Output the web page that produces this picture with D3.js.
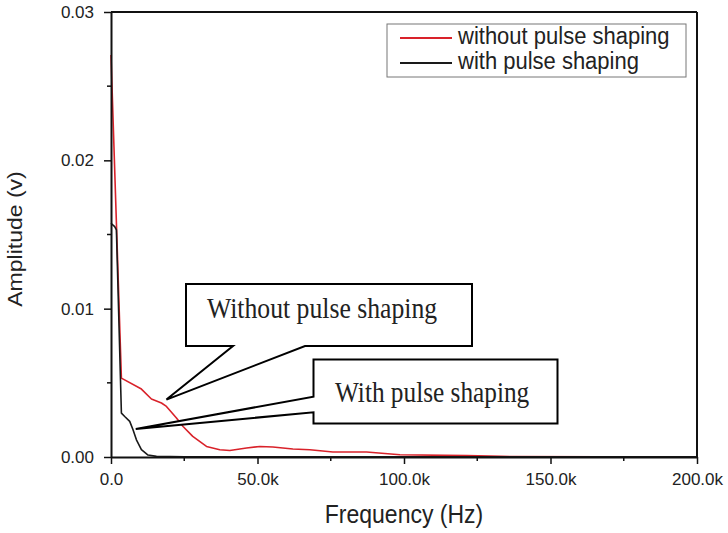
<!DOCTYPE html>
<html>
<head>
<meta charset="utf-8">
<script src="https://cdn.jsdelivr.net/npm/d3@7"></script>
<style>
  html, body { margin: 0; padding: 0; background: #fff; }
  svg { display: block; }
  .sans { font-family: "Liberation Sans", Arial, sans-serif; }
  .serif { font-family: "Liberation Serif", "Times New Roman", serif; }
</style>
</head>
<body>
<svg id="chart" width="728" height="533"></svg>
<script>
// Spectrum amplitude, frequency in Hz, amplitude in volts
const freqWithout = [0, 3550, 10380, 13800, 17220, 18925, 22340, 24600, 27900, 32590, 37130, 40550, 46250, 50800, 55240, 62070, 67880, 75730, 87240, 98620, 121400, 132900, 167000, 200000];
const ampWithout  = [0.0271, 0.00532, 0.00458, 0.00391, 0.00364, 0.00341, 0.00263, 0.00206, 0.00139, 0.00071, 0.00049, 0.00044, 0.00061, 0.00071, 0.00067, 0.00054, 0.00049, 0.00034, 0.00034, 0.00015, 0.00009, 0.00004, 0.00002, 0.00001];

const freqWith = [0, 1260, 1845, 3550, 4680, 6390, 7515, 8680, 10380, 12640, 15510, 25000, 50000, 100000, 150000, 200000];
const ampWith  = [0.01576, 0.01553, 0.01531, 0.00296, 0.00273, 0.0024, 0.00184, 0.00116, 0.00049, 0.00013, 0.00004, 0.00002, 0.00001, 0.00001, 0.00001, 0.00001];

const seriesNames = ["without pulse shaping", "with pulse shaping"];
const seriesColors = ["#d9222a", "#1a1a1a"];

const xTickValues = [0, 50000, 100000, 150000, 200000];
const xTickLabels = ["0.0", "50.0k", "100.0k", "150.0k", "200.0k"];
const yTickValues = [0, 0.01, 0.02, 0.03];
const yTickLabels = ["0.00", "0.01", "0.02", "0.03"];

// Callout annotations: text and the data point each one points to
const callouts = [
  { text: "Without pulse shaping", tipX: 18925, tipY: 0.00387 },
  { text: "With pulse shaping",    tipX: 8440,  tipY: 0.00189 }
];

const svg = d3.select("#chart");
const margin = { left: 111, top: 12, right: 31, bottom: 76 };
const W = 728 - margin.left - margin.right;
const H = 533 - margin.top - margin.bottom;

const x = d3.scaleLinear().domain([0, 200000]).range([0, W]);
const y = d3.scaleLinear().domain([0, 0.03]).range([H, 0]);

const g = svg.append("g").attr("transform", `translate(${margin.left},${margin.top})`);

const TS = 1.15; // vertical text stretch

// Curves
const line = d3.line().x(d => x(d[0])).y(d => y(d[1]));
const dataWithout = freqWithout.map((f, i) => [f, ampWithout[i]]);
const dataWith = freqWith.map((f, i) => [f, ampWith[i]]);

g.append("path").datum(dataWithout)
  .attr("d", line).attr("fill", "none")
  .attr("stroke", seriesColors[0]).attr("stroke-width", 1.6).attr("stroke-linejoin", "round");
g.append("path").datum(dataWith)
  .attr("d", line).attr("fill", "none")
  .attr("stroke", seriesColors[1]).attr("stroke-width", 1.6).attr("stroke-linejoin", "round");

// Frame: top and right edges
g.append("line").attr("x1", 0).attr("x2", W).attr("y1", 0).attr("y2", 0)
  .attr("stroke", "#111").attr("stroke-width", 2);
g.append("line").attr("x1", W).attr("x2", W).attr("y1", 0).attr("y2", H)
  .attr("stroke", "#111").attr("stroke-width", 2);

// Axes
const xAxis = d3.axisBottom(x).tickValues(xTickValues)
  .tickFormat((d, i) => xTickLabels[i]).tickSizeInner(7).tickSizeOuter(0).tickPadding(9);
const yAxis = d3.axisLeft(y).tickValues(yTickValues)
  .tickFormat((d, i) => yTickLabels[i]).tickSizeInner(7).tickSizeOuter(0).tickPadding(10);

const gx = g.append("g").attr("transform", `translate(0,${H})`).call(xAxis);
const gy = g.append("g").call(yAxis);

// Minor ticks
const xMinor = d3.range(25000, 200000, 50000);
const yMinor = [0.005, 0.015, 0.025];
g.append("g").selectAll("line").data(xMinor).join("line")
  .attr("x1", d => x(d)).attr("x2", d => x(d)).attr("y1", H).attr("y2", H + 4)
  .attr("stroke", "#111").attr("stroke-width", 1.5);
g.append("g").selectAll("line").data(yMinor).join("line")
  .attr("x1", -4).attr("x2", 0).attr("y1", d => y(d)).attr("y2", d => y(d))
  .attr("stroke", "#111").attr("stroke-width", 1.5);

[gx, gy].forEach(a => {
  a.select(".domain").attr("stroke", "#111").attr("stroke-width", 2);
  a.selectAll(".tick line").attr("stroke", "#111").attr("stroke-width", 1.5);
  a.selectAll(".tick text").attr("class", "sans").attr("font-size", 17).attr("fill", "#222");
});

// Axis titles
svg.append("text").attr("class", "sans")
  .attr("transform", `translate(404,523) scale(1,${TS})`)
  .attr("text-anchor", "middle").attr("font-size", 23).attr("fill", "#222")
  .text("Frequency (Hz)");
svg.append("text").attr("class", "sans")
  .attr("transform", `translate(22,239) rotate(-90) scale(${TS},1)`)
  .attr("text-anchor", "middle").attr("font-size", 20).attr("fill", "#222")
  .text("Amplitude (v)");

// Legend
const leg = svg.append("g").attr("transform", "translate(387,24)");
leg.append("rect").attr("width", 299).attr("height", 53)
  .attr("fill", "#fff").attr("stroke", "#777").attr("stroke-width", 1);
seriesNames.forEach((name, i) => {
  const ly = 14 + i * 25;
  leg.append("line").attr("x1", 13).attr("x2", 65).attr("y1", ly).attr("y2", ly)
    .attr("stroke", seriesColors[i]).attr("stroke-width", 2);
  leg.append("text").attr("class", "sans")
    .attr("transform", `translate(71,${ly + 6}) scale(1,1.05)`)
    .attr("font-size", 22).attr("fill", "#222").text(name);
});

// Callout boxes with wedge pointers
function callout(c, box) {
  const tx = margin.left + x(c.tipX), ty = margin.top + y(c.tipY);
  const { x0, y0, x1, y1 } = box;
  let pts;
  if (box.side === "bottom") {
    pts = [[x0, y0], [x1, y0], [x1, y1], [box.b, y1], [tx, ty], [box.a, y1], [x0, y1]];
  } else {
    pts = [[x0, y0], [x1, y0], [x1, y1], [x0, y1], [x0, box.b], [tx, ty], [x0, box.a]];
  }
  svg.append("path")
    .attr("d", "M" + pts.map(p => p.join(",")).join("L") + "Z")
    .attr("fill", "#fff").attr("stroke", "#000").attr("stroke-width", 2)
    .attr("stroke-linejoin", "miter");
  svg.append("text").attr("class", "serif")
    .attr("transform", `translate(${box.tx},${box.ty}) scale(1,${TS})`)
    .attr("font-size", box.fs).attr("fill", "#222").text(c.text);
}
callout(callouts[0], { side: "bottom", x0: 186, y0: 284, x1: 472, y1: 346, a: 233, b: 305, tx: 207, ty: 318, fs: 25.7 });
callout(callouts[1], { side: "left", x0: 313.5, y0: 359.5, x1: 557.5, y1: 423.5, a: 396.7, b: 412.3, tx: 335, ty: 402, fs: 25.3 });
</script>
</body>
</html>
